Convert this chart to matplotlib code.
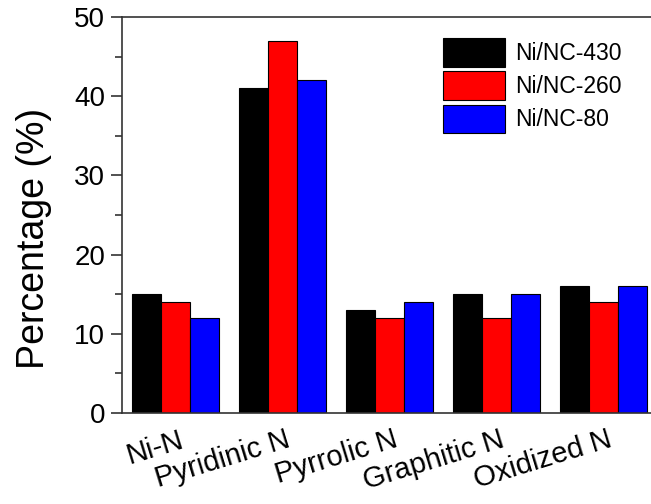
import matplotlib
matplotlib.use("Agg")
import matplotlib.pyplot as plt
import matplotlib.transforms as mtransforms
import numpy as np
from matplotlib.ticker import MultipleLocator

categories = ["Ni-N", "Pyridinic N", "Pyrrolic N", "Graphitic N", "Oxidized N"]
series_names = ["Ni/NC-430", "Ni/NC-260", "Ni/NC-80"]
ni_nc_430 = [15, 41, 13, 15, 16]
ni_nc_260 = [14, 47, 12, 12, 14]
ni_nc_80 = [12, 42, 14, 15, 16]
colors = ["#000000", "#ff0000", "#0000ff"]

plt.rcParams['font.family'] = ['Liberation Sans', 'DejaVu Sans']

fig = plt.figure(figsize=(6.51, 5.04), dpi=100)
ax = fig.add_axes([122/651, 91/504, (657-122)/651, (413-17)/504])

x = np.arange(len(categories))
w = 0.27
for i, (vals, name, c) in enumerate(zip([ni_nc_430, ni_nc_260, ni_nc_80], series_names, colors)):
    ax.bar(x + (i - 1) * w, vals, width=w, color=c, edgecolor='black', linewidth=0.8, label=name)

ax.set_xlim(-0.5, 4.5)
ax.set_ylim(0, 50)
ax.yaxis.set_major_locator(MultipleLocator(10))
ax.yaxis.set_minor_locator(MultipleLocator(5))
ax.tick_params(axis='y', which='major', direction='out', length=8, width=1.2, labelsize=20, pad=4, color='#333333')
ax.tick_params(axis='y', which='minor', direction='out', length=5, width=1.2, color='#333333')
ax.set_xticks(x)
ax.set_xticklabels(categories, rotation=17, ha='right', rotation_mode='anchor', fontsize=21)
ax.tick_params(axis='x', length=0, pad=9)
offset = mtransforms.ScaledTranslation(3/100, 0, fig.dpi_scale_trans)
for lab in ax.get_xticklabels():
    lab.set_transform(lab.get_transform() + offset)
for s in ax.spines.values():
    s.set_linewidth(1.2)
    s.set_color('#333333')
ax.set_ylabel("Percentage (%)", fontsize=27)
ax.yaxis.set_label_coords(-0.131, 0.44)

fs = 16.5
ax.legend(loc='upper left', bbox_to_anchor=(443/651, 1 - 38/504), bbox_transform=fig.transFigure,
          frameon=False, fontsize=fs, handlelength=2.7, handleheight=1.55,
          labelspacing=0.2, handletextpad=0.44, borderpad=0, borderaxespad=0)

fig.savefig("out.png", dpi=100, facecolor='white')
